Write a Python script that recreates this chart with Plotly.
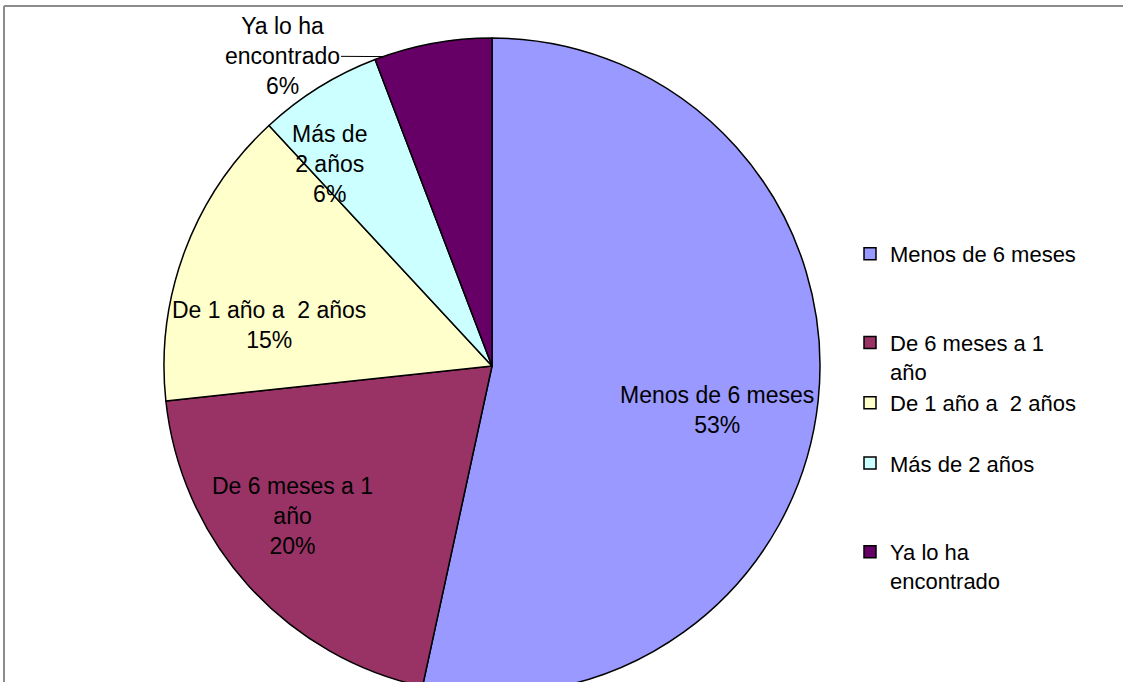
import math
import plotly.graph_objects as go

# ---- data ----
categories = ["Menos de 6 meses", "De 6 meses a 1 año", "De 1 año a  2 años",
              "Más de 2 años", "Ya lo ha encontrado"]
values = [53.4, 19.9, 14.8, 6.1, 5.8]
slice_text = ["Menos de 6 meses", "De 6 meses a 1<br>año", "De 1 año a  2 años",
              "Más de<br>2 años", "Ya lo ha<br>encontrado"]
legend_text = ["Menos de 6 meses", "De 6 meses a 1<br>año", "De 1 año a  2 años",
               "Más de 2 años", "Ya lo ha<br>encontrado"]
colors = ["#9999FF", "#993366", "#FFFFCC", "#CCFFFF", "#660066"]

# ---- layout / style ----
W, H = 1123, 700
cx, cy, R = 492, 366, 328
FONT = "Liberation Sans, Arial, sans-serif"
legend_pad = [2, 0, 1, 2, 0]          # blank lines to space legend entries
label_r = [0.70, 0.76, 0.69, 0.79]     # label radius fraction (inside labels)
label_dang = [5, 5, -10, -7]           # label angle tweak (deg)

def px(x):
    return x / W

def py(y):
    return 1 - y / H

total = sum(values)
pcts = [f"{round(v / total * 100)}%" for v in values]
legend_names = [t + "<br> " * p for t, p in zip(legend_text, legend_pad)]

fig = go.Figure(go.Pie(
    labels=legend_names,
    values=values,
    sort=False,
    direction="clockwise",
    rotation=0,
    textinfo="none",
    hoverinfo="skip",
    marker=dict(colors=colors, line=dict(color="black", width=1.5)),
    domain=dict(x=[px(cx - R), px(cx + R)], y=[py(cy + R), py(cy - R)]),
))

annotations = []
cum = 0.0
starts = []
for i, v in enumerate(values):
    starts.append(cum)
    mid = cum + v / total / 2
    cum += v / total
    if i < 4:
        th = math.radians(mid * 360 + label_dang[i])
        r = R * label_r[i]
        x = cx + r * math.sin(th)
        y = cy - r * math.cos(th)
        annotations.append(dict(
            x=px(x), y=py(y), xref="paper", yref="paper",
            text=slice_text[i] + "<br>" + pcts[i], showarrow=False,
            font=dict(family=FONT, size=23, color="black"),
            xanchor="center", yanchor="middle", align="center"))

# outside label for last slice with leader line
th = math.radians(starts[4] * 360 + 1.5)
tx = cx + R * math.sin(th)
ty = cy - R * math.cos(th)
annotations.append(dict(
    x=px(tx), y=py(ty), xref="paper", yref="paper",
    text=slice_text[4] + "<br>" + pcts[4], showarrow=True,
    arrowhead=0, arrowwidth=1, arrowcolor="black", standoff=0,
    ax=282 - tx, ay=56 - ty, axref="pixel", ayref="pixel",
    font=dict(family=FONT, size=23, color="black"), align="center"))

fig.update_layout(
    width=W, height=H,
    margin=dict(l=0, r=0, t=0, b=0),
    paper_bgcolor="white", plot_bgcolor="white",
    font=dict(family=FONT, size=22, color="black"),
    showlegend=True,
    legend=dict(x=px(850), y=py(233), xanchor="left", yanchor="top",
                valign="top", font=dict(family=FONT, size=22, color="black"),
                bgcolor="rgba(0,0,0,0)"),
    annotations=annotations,
    shapes=[
        dict(type="line", xref="paper", yref="paper", x0=px(4), x1=1, y0=py(6), y1=py(6),
             line=dict(color="#8c8c8c", width=2)),
        dict(type="line", xref="paper", yref="paper", x0=px(4), x1=px(4), y0=py(6), y1=0,
             line=dict(color="#8c8c8c", width=2)),
    ],
)

fig.write_html(
    "out.html",
    config={"displayModeBar": False},
    post_script="document.body.style.margin='0';document.body.style.overflow='hidden';"
                "document.documentElement.style.overflow='hidden';",
)
